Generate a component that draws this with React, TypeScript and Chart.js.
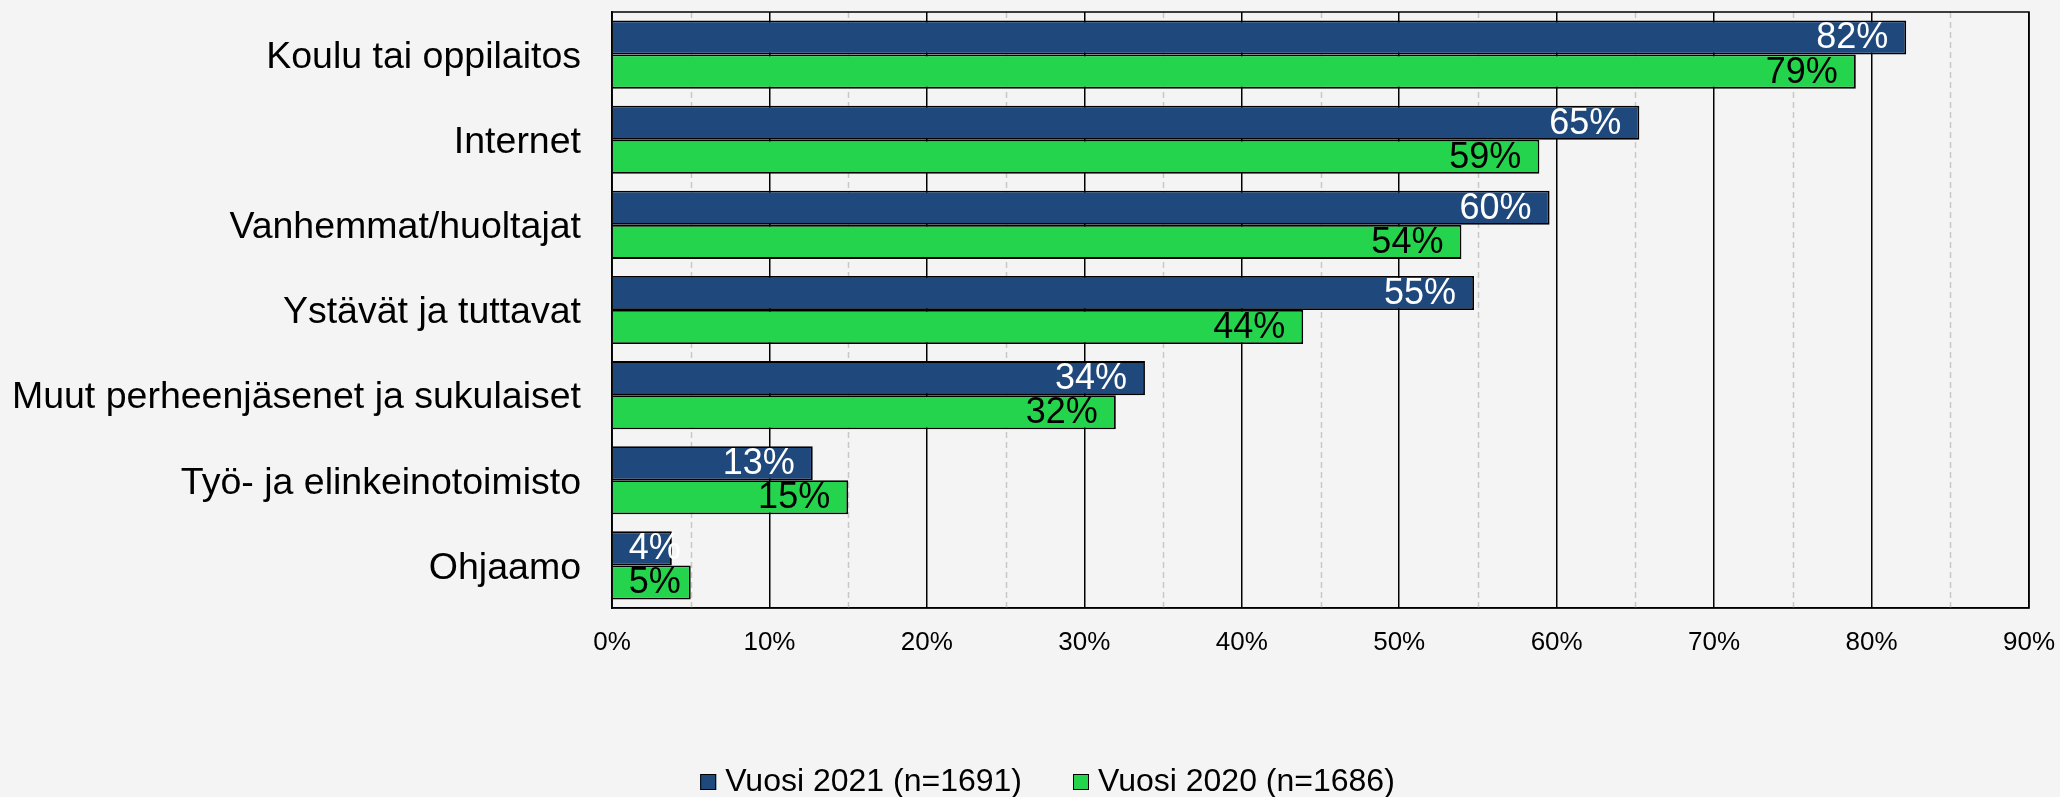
import React, { useEffect, useRef } from "react";
import { Chart, registerables } from "chart.js";

Chart.register(...registerables);

const categories = [
  "Koulu tai oppilaitos",
  "Internet",
  "Vanhemmat/huoltajat",
  "Ystävät ja tuttavat",
  "Muut perheenjäsenet ja sukulaiset",
  "Työ- ja elinkeinotoimisto",
  "Ohjaamo",
];
const series2021 = [82.2, 65.25, 59.55, 54.75, 33.85, 12.75, 3.8];
const series2020 = [79.0, 58.9, 53.95, 43.9, 32.0, 15.0, 5.0];
const seriesNames = ["Vuosi 2021 (n=1691)", "Vuosi 2020 (n=1686)"];
const xTickValues = [0, 10, 20, 30, 40, 50, 60, 70, 80, 90];
const minorGridValues = [5, 15, 25, 35, 45, 55, 65, 75, 85];

const NAVY = "#1f497c";
const GREEN = "#24d44c";
const BG = "#f4f4f4";
const FONT = "'Liberation Sans', Arial, Helvetica, sans-serif";

const bgPlugin = {
  id: "bgPlugin",
  beforeDraw(chart: any) {
    const ctx = chart.ctx;
    ctx.save();
    ctx.fillStyle = BG;
    ctx.fillRect(0, 0, chart.width, chart.height);
    ctx.restore();
  },
};

const minorGridPlugin = {
  id: "minorGrid",
  beforeDatasetsDraw(chart: any) {
    const { ctx, chartArea } = chart;
    const xs = chart.scales.x;
    ctx.save();
    ctx.strokeStyle = "#c8c8c8";
    ctx.lineWidth = 1.5;
    ctx.setLineDash([6, 4]);
    minorGridValues.forEach((v) => {
      const px = Math.round(xs.getPixelForValue(v)) + 0.5;
      ctx.beginPath();
      ctx.moveTo(px, chartArea.top);
      ctx.lineTo(px, chartArea.bottom);
      ctx.stroke();
    });
    ctx.restore();
  },
};

const labelPlugin = {
  id: "barLabels",
  afterDatasetsDraw(chart: any) {
    const { ctx, chartArea } = chart;
    ctx.save();
    ctx.strokeStyle = "#000";
    ctx.lineWidth = 1.5;
    ctx.strokeRect(chartArea.left, chartArea.top, chartArea.right - chartArea.left, chartArea.bottom - chartArea.top);
    ctx.font = `36px ${FONT}`;
    ctx.textAlign = "right";
    ctx.textBaseline = "middle";
    chart.data.datasets.forEach((ds: any, di: number) => {
      const meta = chart.getDatasetMeta(di);
      ctx.fillStyle = di === 0 ? "#ffffff" : "#000000";
      meta.data.forEach((el: any, i: number) => {
        const txt = Math.round(ds.data[i]) + "%";
        const w = ctx.measureText(txt).width;
        const right = Math.max(el.x - 18, el.base + 16 + w);
        ctx.fillText(txt, right, el.y + 1);
      });
    });
    ctx.restore();
  },
};

const legendPlugin = {
  id: "customLegend",
  afterDraw(chart: any) {
    const ctx = chart.ctx;
    ctx.save();
    ctx.font = `32px ${FONT}`;
    const colors = [NAVY, GREEN];
    const box = 16;
    const gap = 9;
    const itemGap = 51;
    const widths = seriesNames.map((n) => ctx.measureText(n).width);
    const total = widths.reduce((a, w) => a + box + gap + w, 0) + itemGap;
    let x = 1047.5 - total / 2;
    const baseline = 791;
    seriesNames.forEach((n, i) => {
      ctx.fillStyle = colors[i];
      ctx.fillRect(x, 774, box, box);
      ctx.strokeStyle = "#000";
      ctx.lineWidth = 1;
      ctx.strokeRect(x + 0.5, 774.5, box - 1, box - 1);
      ctx.fillStyle = "#000";
      ctx.textAlign = "left";
      ctx.textBaseline = "alphabetic";
      ctx.fillText(n, x + box + gap, baseline);
      x += box + gap + widths[i] + itemGap;
    });
    ctx.restore();
  },
};

export default function App() {
  const ref = useRef<HTMLCanvasElement | null>(null);
  useEffect(() => {
    document.body.style.margin = "0";
    document.body.style.background = BG;
    const canvas = ref.current!;
    const chart = new Chart(canvas, {
      type: "bar",
      data: {
        labels: categories,
        datasets: [
          {
            label: seriesNames[0],
            data: series2021,
            backgroundColor: NAVY,
            borderColor: "#000",
            borderWidth: 1.8,
            categoryPercentage: 0.8,
            barPercentage: 1.0,
          },
          {
            label: seriesNames[1],
            data: series2020,
            backgroundColor: GREEN,
            borderColor: "#000",
            borderWidth: 1.8,
            categoryPercentage: 0.8,
            barPercentage: 1.0,
          },
        ],
      },
      options: {
        indexAxis: "y",
        animation: false,
        responsive: false,
        maintainAspectRatio: false,
        layout: { padding: { left: 0, right: 31, top: 12, bottom: 0 } },
        plugins: {
          legend: { display: false },
          tooltip: { enabled: false },
        },
        scales: {
          x: {
            min: 0,
            max: 90,
            afterBuildTicks(scale: any) {
              scale.ticks = xTickValues.map((v) => ({ value: v }));
            },
            afterFit(scale: any) {
              scale.height = 189;
              scale.paddingLeft = 0;
              scale.paddingRight = 0;
            },
            ticks: {
              callback: (v: any) => v + "%",
              color: "#000",
              font: { family: FONT, size: 26 },
              padding: 19,
              maxRotation: 0,
              autoSkip: false,
            },
            grid: { color: "#000", lineWidth: 1.5, drawTicks: false },
            border: { color: "#000", width: 1.5 },
          },
          y: {
            afterFit(scale: any) {
              scale.width = 612;
              scale.paddingTop = 0;
              scale.paddingBottom = 0;
            },
            ticks: {
              color: "#000",
              font: { family: FONT, size: 37.5 },
              padding: 31,
              labelOffset: 3,
              autoSkip: false,
            },
            grid: { display: false, drawTicks: false },
            border: { color: "#000", width: 1.5 },
          },
        },
      },
      plugins: [bgPlugin, minorGridPlugin, labelPlugin, legendPlugin],
    } as any);
    return () => chart.destroy();
  }, []);
  return (
    <div style={{ width: 2060, height: 797, background: BG }}>
      <canvas ref={ref} width={2060} height={797} style={{ display: "block" }} />
    </div>
  );
}
